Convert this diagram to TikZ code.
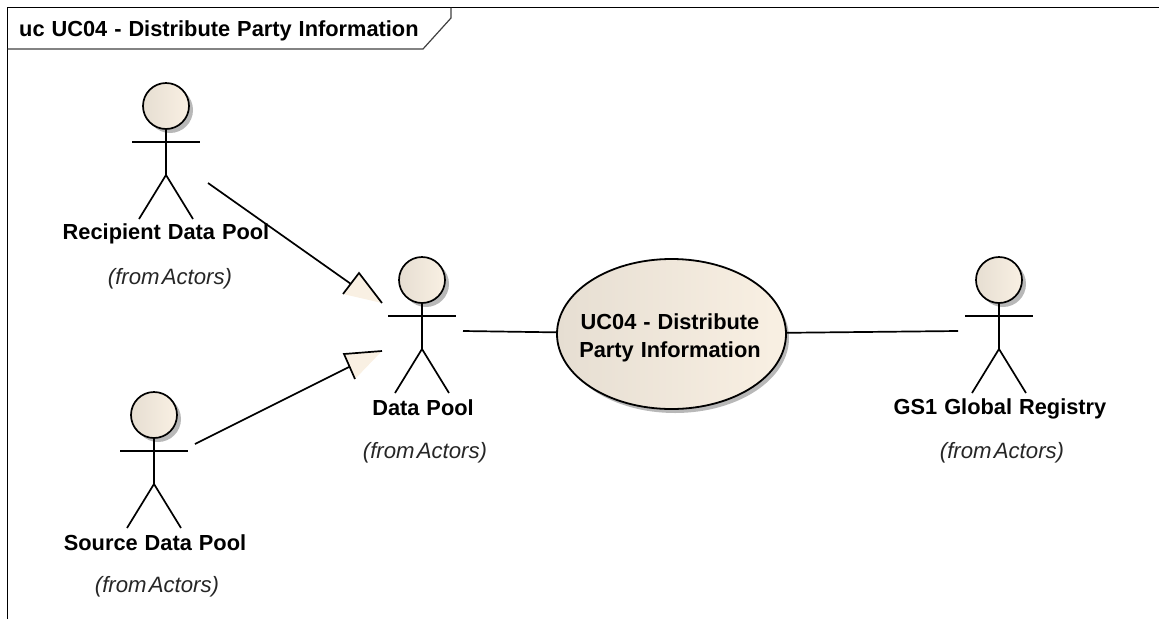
\documentclass[tikz,border=0pt]{standalone}
\usepackage{fontspec}
\setmainfont{Liberation Sans}[WordSpace=1.15]
\newfontfamily\fromfont{Liberation Sans}[WordSpace=0.35,ItalicFont=Liberation Sans Italic]
\usetikzlibrary{shapes.geometric}
\definecolor{creamR}{RGB}{249,240,227}
\definecolor{creamL}{RGB}{230,222,210}
\tikzset{
  x=1pt,y=-1pt,
  frameline/.style={draw=black!75,line width=1.2pt},
  limb/.style={draw=black,line width=1.7pt},
  creamshade/.style={left color=creamL,middle color=creamR,right color=creamR},
  actorname/.style={font=\bfseries\fontsize{21.8}{24}\selectfont,text=black,inner sep=0pt,anchor=center},
  fromtext/.style={font=\fromfont\itshape\fontsize{22.2}{24}\selectfont,text=black!85,inner sep=0pt,anchor=center},
  assoc/.style={draw=black,line width=1.7pt},
  ucase/.style={ellipse,draw=black,line width=1.8pt,minimum width=229pt,minimum height=150pt,inner sep=0pt,creamshade},
}
\newcommand{\actorfig}[3]{%
  \fill[black!28] (#2+4,#3+4) circle[radius=23];
  \draw[line width=1.7pt,creamshade] (#2,#3) circle[radius=23];
  \draw[limb] (#2,#3+23) -- (#2,#3+69);
  \draw[limb] (#2-34,#3+36) -- (#2+34,#3+36);
  \draw[limb] (#2-27,#3+113) -- (#2,#3+69) -- (#2+27,#3+113);
  \coordinate (#1) at (#2,#3);
}
\begin{document}
\begin{tikzpicture}
\useasboundingbox (0,0) rectangle (1159,619);
\draw[frameline,draw=black] (7.5,619) -- (7.5,7.5) -- (1159,7.5);
\draw[frameline] (7.5,49) -- (423,49) -- (451,18) -- (451,7.5);
\node[font=\bfseries\fontsize{21.8}{24}\selectfont,anchor=west,inner sep=0pt] (title) at (19,31) {uc UC04 - Distribute Party Information};
\actorfig{recip}{166}{106}
\actorfig{pool}{422}{280}
\actorfig{src}{154}{415}
\actorfig{gs}{999}{280}
\node[actorname] (recipname) at (166,234) {Recipient Data Pool};
\node[fromtext] (recipfrom) at (170,278.5) {(from Actors)};
\node[actorname] (poolnm) at (423,408) {Data Pool};
\node[fromtext] (poolfrom) at (425,452.5) {(from Actors)};
\node[actorname] (srcname) at (155,543) {Source Data Pool};
\node[fromtext] (srcfrom) at (157,587) {(from Actors)};
\node[actorname] (gsname) at (1000,409) {GS1 Global Registry};
\node[fromtext] (gsfrom) at (1002,452.5) {(from Actors)};
\fill[black!28] (675,338) ellipse[x radius=114,y radius=75];
\node[ucase] (uc) at (671.5,334) {};
\node[font=\bfseries\fontsize{21.8}{28}\selectfont,align=center,inner sep=0pt] (uctext) at (670,338) {UC04 - Distribute\\Party Information};
\coordinate (a1) at (208,183);
\coordinate (a2) at (351,284);
\coordinate (t1) at (382,303);
\coordinate (t2) at (359,273);
\coordinate (t3) at (343,294);
\coordinate (b1) at (195,444);
\coordinate (b2) at (349,367);
\coordinate (u1) at (382,351);
\coordinate (u2) at (344,354);
\coordinate (u3) at (355,379);
\coordinate (p1) at (463,331);
\coordinate (g1) at (958,331);
\draw[assoc] (a1) -- (a2);
\fill[creamR] (t1) -- (t2) -- (t3) -- cycle;
\draw[assoc] (t1) -- (t2) -- (t3);
\draw[assoc] (b1) -- (b2);
\fill[creamR] (u1) -- (u2) -- (u3) -- cycle;
\draw[assoc] (u1) -- (u2) -- (u3);
\draw[assoc] (p1) -- (uc);
\draw[assoc] (uc) -- (g1);
\end{tikzpicture}
\end{document}
